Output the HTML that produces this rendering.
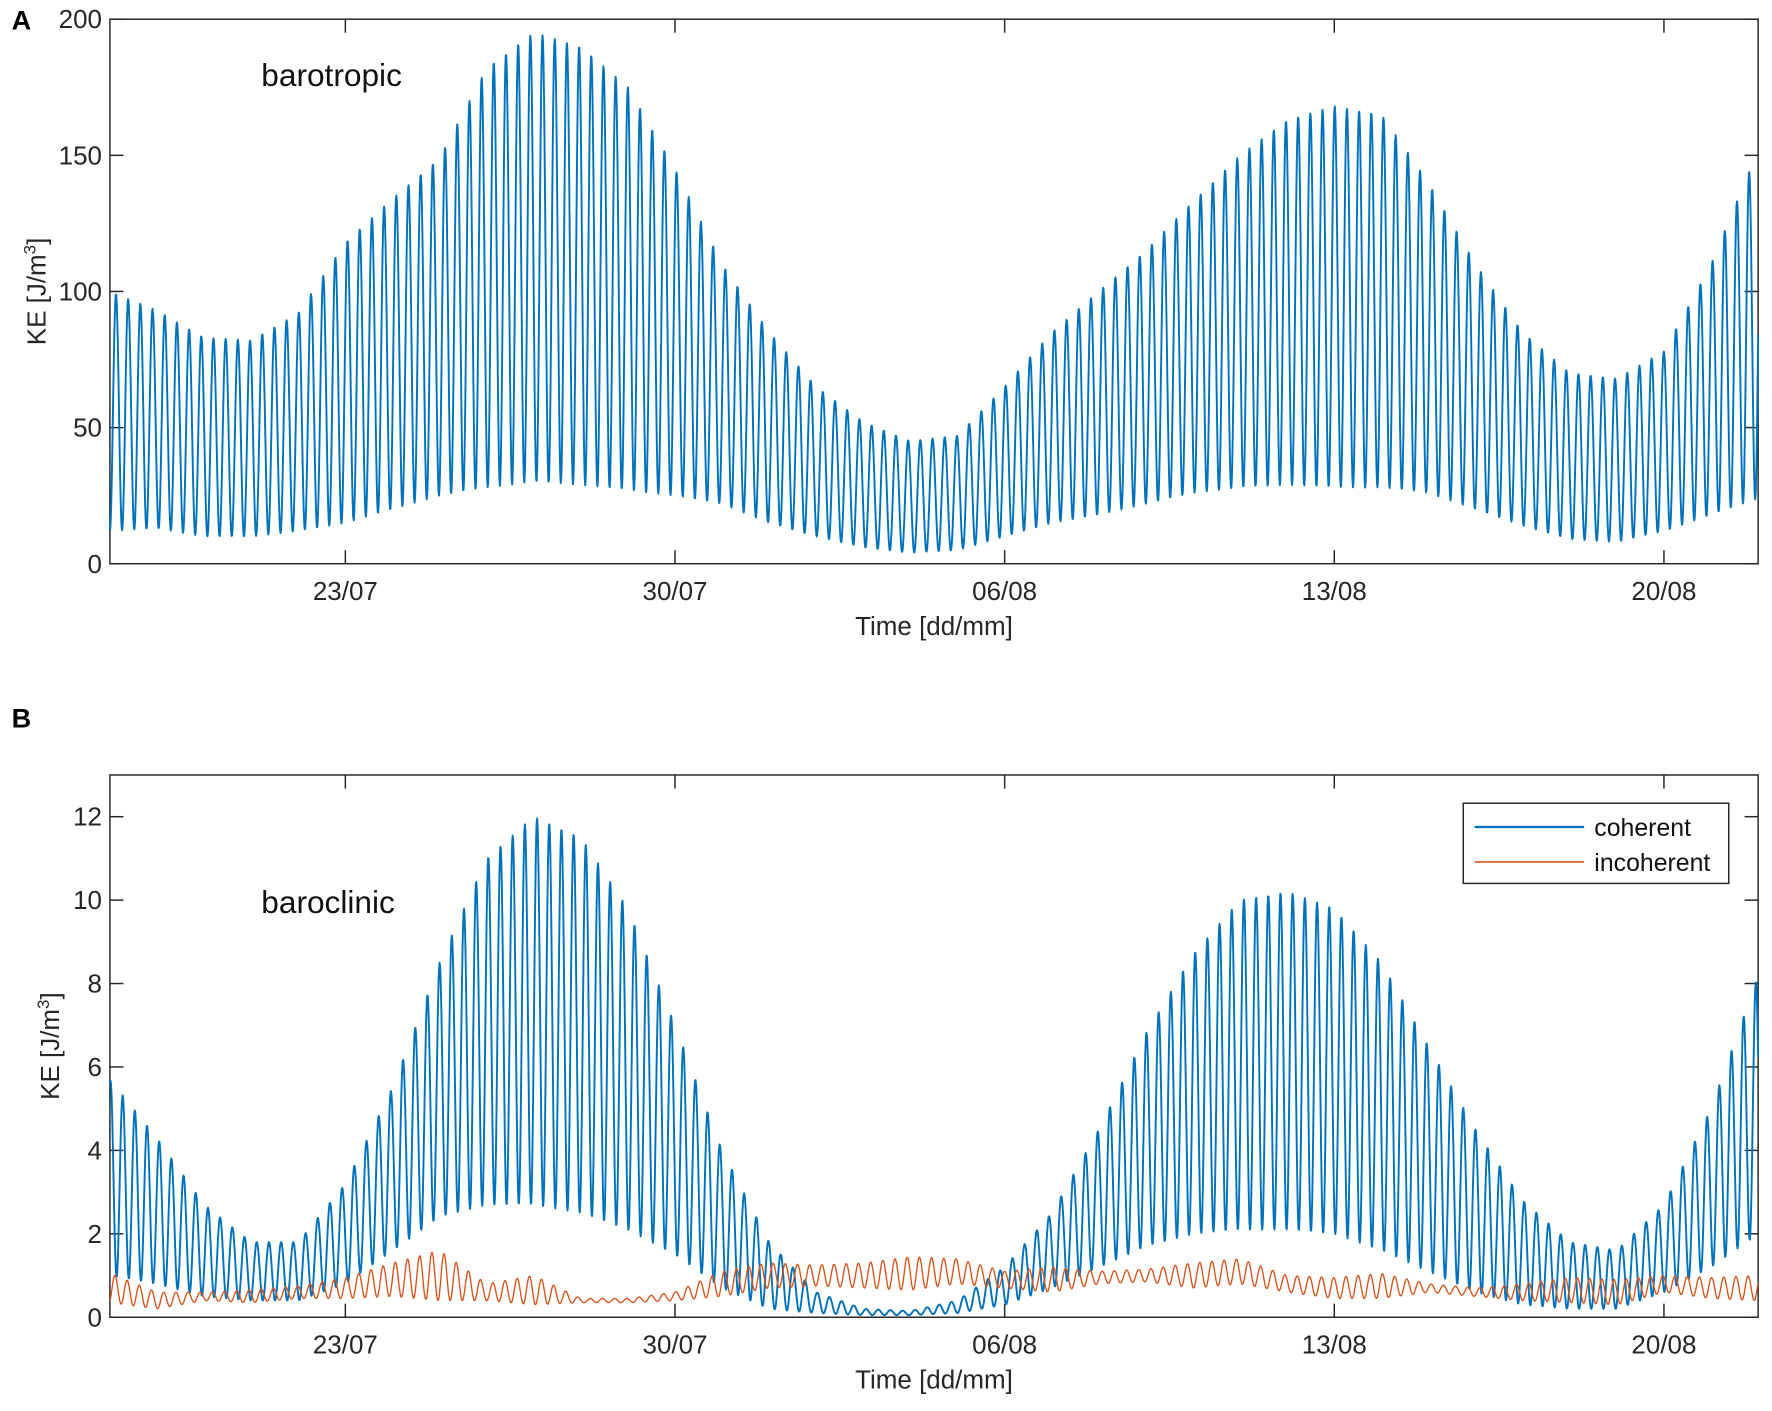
<!DOCTYPE html>
<html><head><meta charset="utf-8"><style>
html,body{margin:0;padding:0;background:#fff}
svg{display:block;font-family:"Liberation Sans",Arial,sans-serif}
</style></head><body>
<svg id="fig" width="1772" height="1411" viewBox="0 0 1568 1249" xmlns="http://www.w3.org/2000/svg">
<rect width="1568" height="1249" fill="#fff"/>
<g id="pa"></g>
<g id="pb"></g>
</svg>
<script>
// day index 0 = 18/07, sampled daily 0..35
const xTickDays = [5, 12, 19, 26, 33];
const xTickLabels = ["23/07", "30/07", "06/08", "13/08", "20/08"];
const aYTicks = [0, 50, 100, 150, 200];
const bYTicks = [0, 2, 4, 6, 8, 10, 12];
const baroUpper = [100,93,83,82,92,118,134,149,182,195,190,175,145,110,85,65,52,45,47,65,85,100,115,133,150,163,168,165,140,110,85,70,68,78,110,152];
const baroLower = [12,13,10,10,12,15,20,25,28,30,29,27,25,22,15,10,6,4,5,10,15,18,22,26,28,29,28,28,26,20,14,9,8,12,18,24];
const cohUpper = [5.7,4.3,2.7,1.8,1.8,3.2,5.5,8.5,11,12,11.5,9.8,7,4,1.8,0.6,0.2,0.15,0.4,1.2,2.5,4.5,6.8,8.7,10,10.2,9.8,8.5,6.5,4.5,2.8,1.8,1.6,2.7,5,8.2];
const cohLower = [1,0.8,0.5,0.4,0.4,0.8,1.6,2.4,2.7,2.7,2.5,2.1,1.5,0.7,0.2,0.1,0.05,0.05,0.1,0.3,0.7,1.2,1.7,2,2.1,2.1,2,1.6,1.1,0.6,0.3,0.2,0.2,0.6,1.2,2];
const incMean = [0.7,0.4,0.5,0.5,0.6,0.7,0.9,1.0,0.6,0.65,0.4,0.4,0.5,0.8,1.0,1.0,1.0,1.05,1.1,0.9,0.9,0.95,1.0,1.0,1.1,0.8,0.7,0.75,0.7,0.6,0.6,0.65,0.6,0.8,0.7,0.7];
const incAmp = [0.35,0.2,0.1,0.15,0.15,0.25,0.4,0.6,0.2,0.35,0.05,0.05,0.1,0.3,0.3,0.25,0.3,0.4,0.3,0.2,0.3,0.15,0.15,0.3,0.3,0.2,0.25,0.3,0.1,0.1,0.2,0.3,0.3,0.2,0.25,0.3];
const cyclesPerDay = 3.864;

const NS = "http://www.w3.org/2000/svg";
function mk(parent, tag, attrs, txt){
  const e = document.createElementNS(NS, tag);
  for (const k in attrs) e.setAttribute(k, attrs[k]);
  if (txt !== undefined) e.textContent = txt;
  parent.appendChild(e); return e;
}
function interp(arr, t){
  const i = Math.min(Math.floor(t), arr.length - 2), f = t - i;
  return arr[i]*(1-f) + arr[i+1]*f;
}
const L = 97, R = 1556, D0 = 0, D1 = 35;
const xs = d => L + (d - D0) / (D1 - D0) * (R - L);

function axes(g, top, bot, ymax, yticks, ylabelY, titleY){
  const ys = v => bot - v / ymax * (bot - top);
  const box = mk(g, "rect", {x:L, y:top, width:R-L, height:bot-top, fill:"none", stroke:"#262626", "stroke-width":1.3});
  
  
  xTickDays.forEach((d, i) => {
    const x = xs(d);
    mk(g, "line", {x1:x, x2:x, y1:bot, y2:bot-12, stroke:"#262626", "stroke-width":1.3});
    mk(g, "line", {x1:x, x2:x, y1:top, y2:top+12, stroke:"#262626", "stroke-width":1.3});
    const t = mk(g, "text", {x:x, y:bot+32, "text-anchor":"middle", "font-size":23, fill:"#262626"}, xTickLabels[i]);
    
    
  });
  yticks.forEach(v => {
    const y = ys(v);
    mk(g, "line", {x1:L, x2:L+12, y1:y, y2:y, stroke:"#262626", "stroke-width":1.3});
    mk(g, "line", {x1:R, x2:R-12, y1:y, y2:y, stroke:"#262626", "stroke-width":1.3});
    const t = mk(g, "text", {x:L-7, y:y+8, "text-anchor":"end", "font-size":23, fill:"#262626"}, String(v));
    
    
  });
  const xt = mk(g, "text", {x:(L+R)/2, y:bot+63, "text-anchor":"middle", "font-size":23, fill:"#262626"}, "Time [dd/mm]");
  
  
  const yt = mk(g, "text", {transform:`translate(${titleY},${ylabelY}) rotate(-90)`, "text-anchor":"middle", "font-size":23, fill:"#262626"});
  
  
  yt.appendChild(document.createTextNode("KE [J/m"));
  mk(yt, "tspan", {dy:-9, "font-size":15}, "3");
  mk(yt, "tspan", {dy:9}, "]");
  return ys;
}
function osc(g, ys, lowArr, hiArr, phase, color, w, name, mode){
  let d = "";
  const N = 35 * 96;
  for (let i = 0; i <= N; i++){
    const t = i / N * 35;
    let v;
    const c = (1 - Math.cos(2*Math.PI*cyclesPerDay*t + phase)) / 2;
    if (mode === "env") { const lo = interp(lowArr, t), hi = interp(hiArr, t); v = lo + (hi - lo) * c; }
    else { const m = interp(lowArr, t), a = interp(hiArr, t); v = Math.max(0.02, m + a * (2*c - 1)); }
    d += (i ? "L" : "M") + xs(t).toFixed(2) + "," + ys(v).toFixed(2);
  }
  const p = mk(g, "path", {d:d, fill:"none", stroke:color, "stroke-width":w, "stroke-linejoin":"round"});
  
  
}

// Panel A
const ga = document.getElementById("pa");
const ysA = axes(ga, 17, 499, 200, aYTicks, 258, 40);
osc(ga, ysA, baroLower, baroUpper, 0, "#0072BD", 1.7, "barotropic-line", "env");
const la = mk(ga, "text", {x:10, y:26, "font-size":24, "font-weight":"bold", fill:"#000"}, "A");


const ta = mk(ga, "text", {x:231, y:76, "font-size":28, fill:"#111"}, "barotropic");



// Panel B
const gb = document.getElementById("pb");
const ysB = axes(gb, 686, 1166, 13, bYTicks, 926, 52);
osc(gb, ysB, cohLower, cohUpper, Math.PI*0.9, "#0072BD", 1.7, "coherent-line", "env");
osc(gb, ysB, incMean, incAmp, 0.5, "#D95319", 1.2, "incoherent-line", "mean");
const lb = mk(gb, "text", {x:10, y:644, "font-size":24, "font-weight":"bold", fill:"#000"}, "B");


const tb = mk(gb, "text", {x:231, y:808, "font-size":28, fill:"#111"}, "baroclinic");


const leg = mk(gb, "g", {});


mk(leg, "rect", {x:1295, y:711, width:235, height:71, fill:"#fff", stroke:"#262626", "stroke-width":1.3});
mk(leg, "line", {x1:1305, x2:1402, y1:732, y2:732, stroke:"#0072BD", "stroke-width":2});
mk(leg, "line", {x1:1305, x2:1402, y1:763, y2:763, stroke:"#D95319", "stroke-width":1.5});
const e1 = mk(leg, "text", {x:1411, y:740, "font-size":22, fill:"#111"}, "coherent");


const e2 = mk(leg, "text", {x:1411, y:771, "font-size":22, fill:"#111"}, "incoherent");


</script>
</body></html>
